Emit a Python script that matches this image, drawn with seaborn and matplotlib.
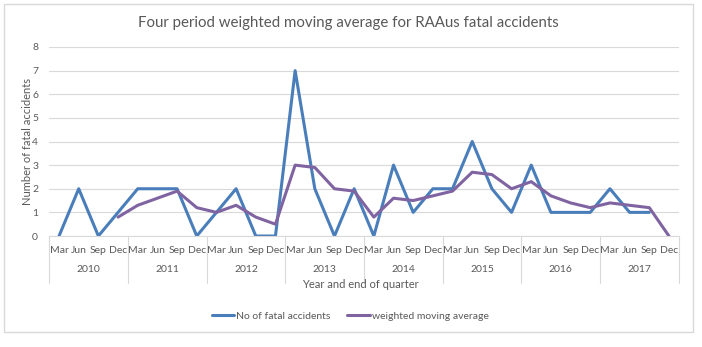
import numpy as np
import pandas as pd
import matplotlib
matplotlib.use("Agg")
import matplotlib.pyplot as plt
from matplotlib.patches import Rectangle
from matplotlib.lines import Line2D
import matplotlib.transforms as mtransforms
import seaborn as sns

years = ["2010", "2011", "2012", "2013", "2014", "2015", "2016", "2017"]
quarters = ["Mar", "Jun", "Sep", "Dec"]

fatal_accidents = [0, 2, 0, 1,
                   2, 2, 2, 0,
                   1, 2, 0, 0,
                   7, 2, 0, 2,
                   0, 3, 1, 2,
                   2, 4, 2, 1,
                   3, 1, 1, 1,
                   2, 1, 1, np.nan]

weighted_avg = [np.nan, np.nan, np.nan, 0.8,
                1.3, 1.6, 1.9, 1.2,
                1.0, 1.3, 0.8, 0.5,
                3.0, 2.9, 2.0, 1.9,
                0.8, 1.6, 1.5, 1.7,
                1.9, 2.7, 2.6, 2.0,
                2.3, 1.7, 1.4, 1.2,
                1.4, 1.3, 1.2, 0.0]

blue = "#4A7EBB"
purple = "#8064A2"
text_col = "#595959"
grid_col = "#D9D9D9"

sns.set_theme(style="white")
plt.rcParams["font.family"] = ["Lato", "DejaVu Sans"]

n = len(fatal_accidents)
df = pd.DataFrame({
    "idx": np.arange(n),
    "fatal": fatal_accidents,
    "wma": weighted_avg,
})

W, H = 702, 347
fig = plt.figure(figsize=(W / 100, H / 100), dpi=100)
fig.patch.set_facecolor("white")

# outer chart border
fig.patches.append(Rectangle((4 / W, 1 - 332 / H), (693 - 4) / W, (332 - 4) / H,
                             transform=fig.transFigure, fill=False,
                             edgecolor=grid_col, linewidth=1.0))

ax = fig.add_axes([49.2 / W, 1 - 236 / H, (678.8 - 49.2) / W, (236 - 47) / H])

sns.lineplot(data=df, x="idx", y="fatal", ax=ax, color=blue, linewidth=2.2)
sns.lineplot(data=df, x="idx", y="wma", ax=ax, color=purple, linewidth=2.2)

ax.set_xlim(-0.5, n - 0.5)
ax.set_ylim(0, 8)
ax.set_yticks(range(0, 9))
ax.yaxis.grid(True, color=grid_col, linewidth=0.8)
ax.set_axisbelow(True)
for s in ["top", "right", "left"]:
    ax.spines[s].set_visible(False)
ax.spines["bottom"].set_color(grid_col)
ax.spines["bottom"].set_linewidth(0.8)
ax.tick_params(axis="y", length=0, labelsize=7.5, labelcolor=text_col, pad=8)

# quarter labels on the category axis
ax.set_xticks(np.arange(n))
ax.set_xticklabels(quarters * len(years))
ax.tick_params(axis="x", length=0, labelsize=7.5, labelcolor=text_col, pad=7)

# year labels and separators below the quarter row
trans = mtransforms.blended_transform_factory(ax.transData, ax.transAxes)
px = 1.0 / (236 - 47)
for i, yr in enumerate(years):
    centre = i * 4 + 1.5
    ax.text(centre, -(269 - 236) * px, yr, transform=trans, ha="center", va="center",
            fontsize=7.5, color=text_col)
for b in range(len(years) + 1):
    xb = b * 4 - 0.5
    ax.add_line(Line2D([xb, xb], [0, -(283 - 236) * px], transform=trans,
                       color=grid_col, linewidth=0.8, clip_on=False))

ax.set_xlabel("")
ax.set_ylabel("Number of fatal accidents", fontsize=8, color=text_col)
ax.yaxis.set_label_coords(-(49.2 - 33) / (678.8 - 49.2), 0.5)
fig.text(360 / W, 1 - 285 / H, "Year and end of quarter", ha="center", va="center",
         fontsize=8, color=text_col)
fig.text(348 / W, 1 - 23 / H, "Four period weighted moving average for RAAus fatal accidents",
         ha="center", va="center", fontsize=10.8, color=text_col)

handles = [Line2D([], [], color=blue, linewidth=2.2),
           Line2D([], [], color=purple, linewidth=2.2)]
fig.legend(handles, ["No of fatal accidents", "weighted moving average"],
           loc="center", bbox_to_anchor=(350 / W, 1 - 316 / H), ncol=2, frameon=False,
           fontsize=7.5, labelcolor=text_col, handlelength=2.2, handletextpad=0.15,
           columnspacing=1.6)

fig.savefig("out.png", dpi=100, facecolor="white")
